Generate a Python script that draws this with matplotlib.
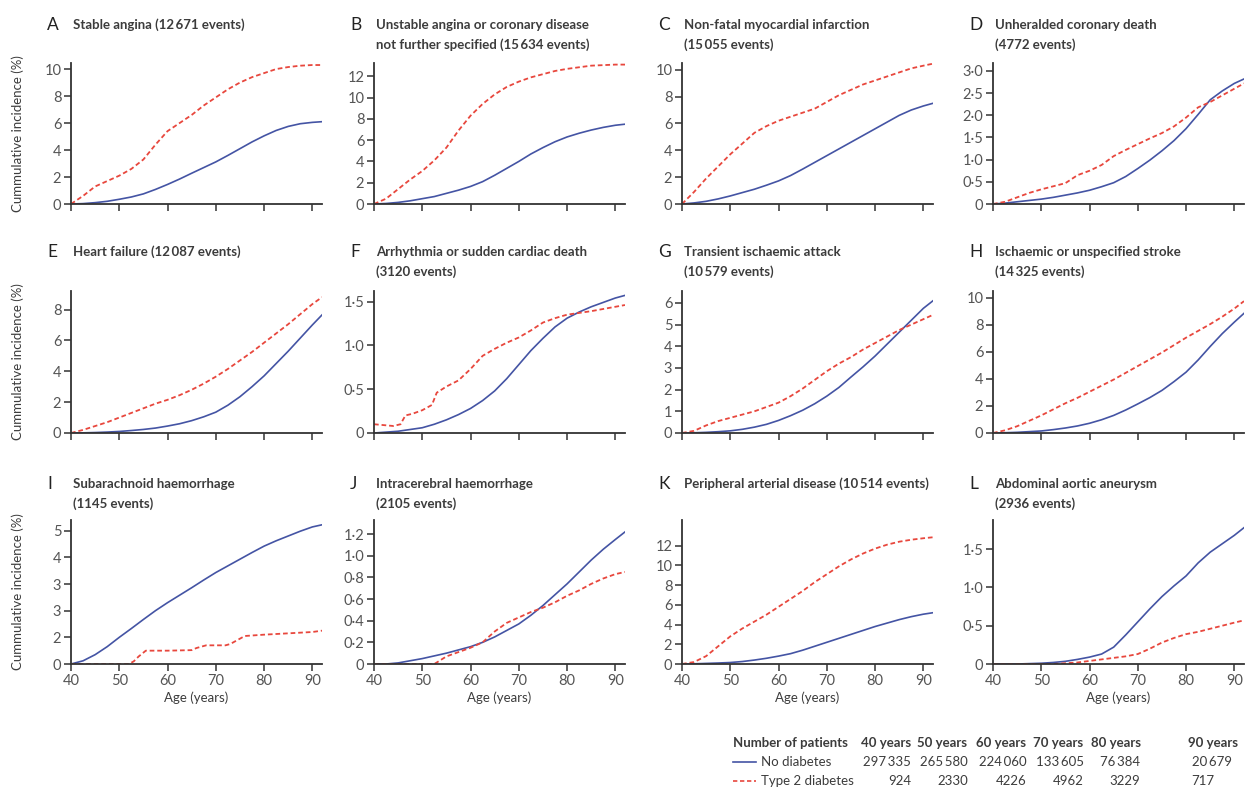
import numpy as np
import matplotlib.pyplot as plt

plt.rcParams['font.family'] = ['Lato', 'DejaVu Sans']

# ---- data ----
ages = [40, 42.5, 45, 47.5, 50, 52.5, 55, 57.5, 60, 62.5, 65, 67.5,
        70, 72.5, 75, 77.5, 80, 82.5, 85, 87.5, 90, 92]

a_none = [0, 0.03, 0.1, 0.2, 0.35, 0.52, 0.75, 1.08, 1.45, 1.85, 2.28, 2.7,
          3.12, 3.6, 4.1, 4.6, 5.05, 5.45, 5.75, 5.95, 6.05, 6.1]
a_t2d = [0, 0.6, 1.3, 1.7, 2.1, 2.6, 3.3, 4.4, 5.4, 6.0, 6.6, 7.3,
         7.9, 8.5, 9.0, 9.4, 9.7, 10.0, 10.15, 10.25, 10.3, 10.3]

b_none = [0, 0.05, 0.15, 0.3, 0.5, 0.7, 1.0, 1.3, 1.65, 2.1, 2.7, 3.35,
          4.0, 4.7, 5.3, 5.85, 6.3, 6.65, 6.95, 7.2, 7.4, 7.5]
b_t2d = [0, 0.5, 1.4, 2.3, 3.1, 4.1, 5.3, 6.9, 8.3, 9.4, 10.3, 11.0,
         11.5, 11.9, 12.2, 12.5, 12.7, 12.85, 13.0, 13.05, 13.1, 13.1]

c_none = [0, 0.08, 0.2, 0.38, 0.6, 0.85, 1.1, 1.4, 1.72, 2.12, 2.6, 3.1,
          3.6, 4.1, 4.6, 5.1, 5.6, 6.1, 6.6, 7.0, 7.3, 7.5]
c_t2d = [0, 0.9, 1.9, 2.8, 3.7, 4.5, 5.3, 5.8, 6.2, 6.5, 6.8, 7.1,
         7.6, 8.1, 8.5, 8.9, 9.2, 9.5, 9.8, 10.1, 10.3, 10.45]

d_none = [0, 0.02, 0.05, 0.08, 0.11, 0.15, 0.2, 0.25, 0.31, 0.39, 0.48, 0.62,
          0.8, 0.99, 1.2, 1.43, 1.7, 2.02, 2.35, 2.55, 2.72, 2.82]
d_t2d = [0, 0.05, 0.15, 0.25, 0.33, 0.4, 0.47, 0.65, 0.75, 0.88, 1.08, 1.22,
         1.35, 1.48, 1.6, 1.75, 1.95, 2.18, 2.3, 2.45, 2.6, 2.72]

e_none = [0, 0.01, 0.03, 0.06, 0.1, 0.16, 0.23, 0.32, 0.45, 0.6, 0.8, 1.05,
          1.35, 1.8, 2.35, 3.0, 3.7, 4.5, 5.3, 6.15, 7.0, 7.65]
e_t2d = [0, 0.2, 0.45, 0.7, 1.0, 1.3, 1.6, 1.9, 2.15, 2.45, 2.8, 3.2,
         3.65, 4.15, 4.7, 5.25, 5.85, 6.45, 7.05, 7.7, 8.35, 8.8]

f_none = [0, 0.01, 0.02, 0.04, 0.06, 0.1, 0.15, 0.21, 0.28, 0.37, 0.48, 0.62,
          0.78, 0.94, 1.08, 1.21, 1.31, 1.38, 1.44, 1.49, 1.54, 1.57]
f_t2d_ages = [40, 44, 45.5, 46.5, 48, 50, 52, 53, 55, 57.5, 60, 62.5, 65,
              67.5, 70, 72.5, 75, 77.5, 80, 85, 90, 92]
f_t2d = [0.1, 0.08, 0.1, 0.2, 0.22, 0.26, 0.32, 0.46, 0.53, 0.6, 0.73, 0.88,
         0.96, 1.03, 1.09, 1.17, 1.26, 1.31, 1.35, 1.39, 1.44, 1.46]

g_none = [0, 0.01, 0.03, 0.06, 0.1, 0.17, 0.27, 0.4, 0.58, 0.8, 1.05, 1.35,
          1.7, 2.1, 2.58, 3.05, 3.55, 4.1, 4.65, 5.2, 5.75, 6.1]
g_t2d = [0, 0.1, 0.35, 0.55, 0.7, 0.85, 1.0, 1.2, 1.4, 1.7, 2.05, 2.45,
         2.85, 3.2, 3.5, 3.85, 4.15, 4.45, 4.75, 5.0, 5.25, 5.45]

h_none = [0, 0.02, 0.05, 0.1, 0.15, 0.25, 0.37, 0.52, 0.72, 0.98, 1.3, 1.7,
          2.15, 2.62, 3.15, 3.8, 4.5, 5.4, 6.4, 7.35, 8.2, 8.85]
h_t2d = [0, 0.2, 0.5, 0.9, 1.3, 1.75, 2.2, 2.6, 3.05, 3.5, 3.95, 4.45,
         4.95, 5.45, 5.95, 6.5, 7.05, 7.55, 8.05, 8.6, 9.2, 9.75]

i_none = [0, 0.12, 0.35, 0.65, 1.0, 1.33, 1.67, 2.0, 2.3, 2.58, 2.86, 3.15,
          3.43, 3.68, 3.93, 4.18, 4.42, 4.62, 4.8, 4.98, 5.14, 5.22]
i_t2d_ages = [40, 52, 53, 54, 55.5, 60, 65, 66, 68, 72, 73, 74.5, 76, 80,
              85, 90, 92]
i_t2d = [0, 0, 0.1, 0.28, 0.5, 0.5, 0.52, 0.6, 0.7, 0.7, 0.75, 0.9, 1.05,
         1.1, 1.15, 1.2, 1.25]

j_none = [0, 0, 0.01, 0.03, 0.05, 0.075, 0.1, 0.13, 0.16, 0.2, 0.25, 0.31,
          0.37, 0.45, 0.54, 0.64, 0.74, 0.85, 0.96, 1.06, 1.15, 1.22]
j_t2d = [0, 0, 0, 0, 0, 0, 0.07, 0.11, 0.15, 0.2, 0.3, 0.38,
         0.43, 0.48, 0.52, 0.57, 0.63, 0.68, 0.74, 0.79, 0.83, 0.85]

k_none = [0, 0.02, 0.06, 0.1, 0.15, 0.25, 0.4, 0.58, 0.8, 1.05, 1.4, 1.8,
          2.2, 2.6, 3.0, 3.4, 3.8, 4.15, 4.5, 4.8, 5.05, 5.2]
k_t2d = [0, 0.2, 0.8, 1.8, 2.8, 3.6, 4.3, 5.0, 5.8, 6.6, 7.4, 8.3,
         9.1, 9.9, 10.6, 11.2, 11.7, 12.1, 12.4, 12.6, 12.75, 12.85]

l_none = [0, 0, 0, 0.005, 0.01, 0.02, 0.035, 0.06, 0.09, 0.13, 0.22, 0.38,
          0.55, 0.72, 0.88, 1.02, 1.15, 1.32, 1.46, 1.57, 1.68, 1.78]
l_t2d = [0, 0, 0, 0, 0, 0, 0.01, 0.02, 0.04, 0.06, 0.08, 0.1,
         0.13, 0.2, 0.28, 0.34, 0.39, 0.42, 0.46, 0.5, 0.54, 0.57]

letters = list('ABCDEFGHIJKL')
titles = ['Stable angina (12\u2009671 events)',
          'Unstable angina or coronary disease\nnot further specified (15\u2009634 events)',
          'Non-fatal myocardial infarction\n(15\u2009055 events)',
          'Unheralded coronary death\n(4772 events)',
          'Heart failure (12\u2009087 events)',
          'Arrhythmia or sudden cardiac death\n(3120 events)',
          'Transient ischaemic attack\n(10\u2009579 events)',
          'Ischaemic or unspecified stroke\n(14\u2009325 events)',
          'Subarachnoid haemorrhage\n(1145 events)',
          'Intracerebral haemorrhage\n(2105 events)',
          'Peripheral arterial disease (10\u2009514 events)',
          'Abdominal aortic aneurysm\n(2936 events)']

none_series = [a_none, b_none, c_none, d_none, e_none, f_none,
               g_none, h_none, i_none, j_none, k_none, l_none]
t2d_series = [(ages, a_t2d), (ages, b_t2d), (ages, c_t2d), (ages, d_t2d),
              (ages, e_t2d), (f_t2d_ages, f_t2d), (ages, g_t2d), (ages, h_t2d),
              (i_t2d_ages, i_t2d), (ages, j_t2d), (ages, k_t2d), (ages, l_t2d)]

y_ticks = [[0, 2, 4, 6, 8, 10], [0, 2, 4, 6, 8, 10, 12], [0, 2, 4, 6, 8, 10],
           [0, 0.5, 1.0, 1.5, 2.0, 2.5, 3.0],
           [0, 2, 4, 6, 8], [0, 0.5, 1.0, 1.5], [0, 1, 2, 3, 4, 5, 6],
           [0, 2, 4, 6, 8, 10],
           [0, 1, 2, 3, 4, 5], [0, 0.2, 0.4, 0.6, 0.8, 1.0, 1.2],
           [0, 2, 4, 6, 8, 10, 12], [0, 0.5, 1.0, 1.5]]
y_labels = [None, None, None, None, None, None, None, None,
            ['0', '2', '3', '3', '4', '5'], None, None, None]
y_tops = [10.45, 13.25, 10.5, 3.18, 9.2, 1.62, 6.55, 10.5, 5.4, 1.33, 14.6, 1.88]

age_cols = ['40 years', '50 years', '60 years', '70 years', '80 years', '90 years']
n_none = ['297\u2009335', '265\u2009580', '224\u2009060', '133\u2009605', '76\u2009384', '20\u2009679']
n_t2d = ['924', '2330', '4226', '4962', '3229', '717']

BLUE = '#4454a4'
RED = '#e8473d'
TXT = '#3c3c3c'
TICK = '#555555'
DASH = (0, (2.6, 1.6))

W, H = 1248, 790
fig = plt.figure(figsize=(W / 100, H / 100), dpi=100)

col_left = [71, 374, 682, 993]
ax_w = 251
row_top = [63, 291, 520]
row_bot = [204, 433, 664]
title_y = [(25, 45), (252, 272), (484, 504)]


def tick_labels(vals):
    step = vals[1] - vals[0]
    out = []
    for v in vals:
        if v == 0:
            out.append('0')
        elif step < 1:
            out.append(('%.1f' % v).replace('.', '\u00b7'))
        else:
            out.append('%d' % v)
    return out


for k in range(12):
    r, c = divmod(k, 4)
    left, bot, top = col_left[c], row_bot[r], row_top[r]
    ax = fig.add_axes([left / W, 1 - bot / H, ax_w / W, (bot - top) / H])
    ax.plot(ages, none_series[k], color=BLUE, lw=1.2)
    tx, ty = t2d_series[k]
    ax.plot(tx, ty, color=RED, lw=1.3, ls=DASH)
    ax.set_xlim(40, 92)
    ax.set_ylim(0, y_tops[k])
    ax.set_xticks([40, 50, 60, 70, 80, 90])
    ax.set_yticks(y_ticks[k])
    if y_labels[k] is not None:
        ax.set_yticklabels(y_labels[k])
    else:
        ax.set_yticklabels(tick_labels(y_ticks[k]))
    for s in ['top', 'right']:
        ax.spines[s].set_visible(False)
    for s in ['left', 'bottom']:
        ax.spines[s].set_linewidth(1.3)
        ax.spines[s].set_color('#333333')
    ax.tick_params(direction='out', length=5, width=1.1, colors='#333333',
                   labelcolor=TICK, labelsize=10.5, pad=2)
    if r < 2:
        ax.set_xticklabels([])
    else:
        ax.set_xlabel('Age (years)', fontsize=9.5, color=TXT, labelpad=3)
    if c == 0:
        fig.text(18 / W, 1 - (top + bot) / 2 / H, 'Cummulative incidence (%)',
                 rotation=90, ha='center', va='center', fontsize=9.5, color=TXT)

    # panel letter and title
    fig.text((left - 24) / W, 1 - title_y[r][0] / H, letters[k],
             ha='left', va='center', fontsize=12.5, color='#222222')
    lines = titles[k].split('\n')
    for li, line in enumerate(lines):
        fig.text((left + 2) / W, 1 - title_y[r][li] / H, line, ha='left',
                 va='center', fontsize=9.5, color=TXT, fontweight='bold')

# ---- number at risk table ----
col_right = [911, 968, 1027, 1084, 1140, 1232]
hdr_cx = [886, 942, 1001, 1058, 1116, 1213]
fig.text(733 / W, 1 - 743 / H, 'Number of patients', ha='left', va='center',
         fontsize=9.5, fontweight='bold', color=TXT)
for j in range(6):
    fig.text(hdr_cx[j] / W, 1 - 743 / H, age_cols[j], ha='center', va='center',
             fontsize=9.5, fontweight='bold', color=TXT)
    fig.text(col_right[j] / W, 1 - 762 / H, n_none[j], ha='right', va='center',
             fontsize=9.5, color=TXT)
    fig.text((col_right[j] - (0 if j < 5 else 18)) / W, 1 - 781 / H, n_t2d[j],
             ha='right', va='center', fontsize=9.5, color=TXT)
fig.add_artist(plt.Line2D([733 / W, 756 / W], [1 - 762 / H] * 2, color=BLUE, lw=1.2))
fig.add_artist(plt.Line2D([733 / W, 756 / W], [1 - 781 / H] * 2, color=RED, lw=1.2,
                          ls=DASH))
fig.text(761 / W, 1 - 762 / H, 'No diabetes', ha='left', va='center',
         fontsize=9.5, color=TXT)
fig.text(761 / W, 1 - 781 / H, 'Type 2 diabetes', ha='left', va='center',
         fontsize=9.5, color=TXT)

fig.savefig('out.png', dpi=100)
